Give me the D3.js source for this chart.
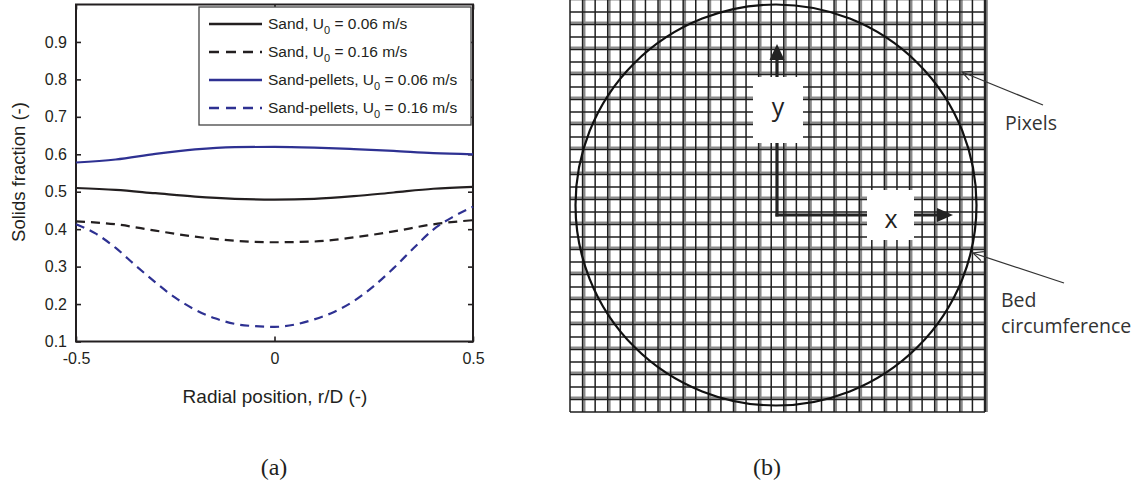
<!DOCTYPE html>
<html>
<head>
<meta charset="utf-8">
<script src="https://cdn.jsdelivr.net/npm/d3@7"></script>
<style>
  body { margin: 0; background: #fff; }
  svg { display: block; }
</style>
</head>
<body>
<svg id="fig" width="1145" height="485"></svg>
<script>
// radial positions (r/D)
const radialCoarse = [-0.5, -0.4, -0.3, -0.2, -0.1, 0, 0.1, 0.2, 0.3, 0.4, 0.5];
const radialFine = [-0.5, -0.45, -0.4, -0.35, -0.3, -0.25, -0.2, -0.15, -0.1, -0.05, 0,
  0.05, 0.1, 0.15, 0.2, 0.25, 0.3, 0.35, 0.4, 0.45, 0.5];

// solids fraction per series
const sandLow = [0.510, 0.505, 0.496, 0.487, 0.481, 0.479, 0.481, 0.488, 0.498, 0.508, 0.513];
const sandHigh = [0.421, 0.413, 0.396, 0.380, 0.369, 0.365, 0.367, 0.378, 0.394, 0.413, 0.424];
const pelletsLow = [0.578, 0.586, 0.601, 0.613, 0.619, 0.620, 0.618, 0.614, 0.609, 0.603, 0.600];
const pelletsHigh = [0.413, 0.388, 0.350, 0.303, 0.258, 0.217, 0.185, 0.162, 0.147, 0.141, 0.139,
  0.145, 0.159, 0.179, 0.208, 0.248, 0.296, 0.349, 0.399, 0.433, 0.460];

const seriesNames = ["Sand", "Sand", "Sand-pellets", "Sand-pellets"];
const seriesVelocity = ["0.06", "0.16", "0.06", "0.16"];
const yTicks = [0.1, 0.2, 0.3, 0.4, 0.5, 0.6, 0.7, 0.8, 0.9];
const xTicks = [-0.5, 0, 0.5];

const black = "#231f20";
const blue = "#2e3192";

const series = [
  { x: radialCoarse, y: sandLow, color: black, dash: null },
  { x: radialCoarse, y: sandHigh, color: black, dash: "9,6" },
  { x: radialCoarse, y: pelletsLow, color: blue, dash: null },
  { x: radialFine, y: pelletsHigh, color: blue, dash: "9,6" }
];

const svg = d3.select("#fig");
const plot = { left: 76, right: 473, top: 4.5, bottom: 341.5 };

const xScale = d3.scaleLinear().domain([-0.5, 0.5]).range([plot.left, plot.right]);
const yScale = d3.scaleLinear().domain([0.1, 1.0]).range([plot.bottom, plot.top]);

const sans = "'Liberation Sans', Arial, sans-serif";

// axes (MATLAB style: ticks pointing in, box all round)
const gLeft = svg.append("g").attr("transform", `translate(${plot.left},0)`)
  .call(d3.axisLeft(yScale).tickValues(yTicks).tickSize(-5).tickPadding(9).tickFormat(d3.format(".1f")));
const gRight = svg.append("g").attr("transform", `translate(${plot.right},0)`)
  .call(d3.axisRight(yScale).tickValues(yTicks).tickSize(-5).tickFormat(""));
const gBottom = svg.append("g").attr("transform", `translate(0,${plot.bottom})`)
  .call(d3.axisBottom(xScale).tickValues(xTicks).tickSize(-5).tickPadding(11).tickFormat(d => String(d)));
const gTop = svg.append("g").attr("transform", `translate(0,${plot.top})`)
  .call(d3.axisTop(xScale).tickValues(xTicks).tickSize(-5).tickFormat(""));

[gLeft, gRight, gBottom, gTop].forEach(g => {
  g.select(".domain").remove();
  g.selectAll(".tick line").attr("stroke", black).attr("stroke-width", 1.6);
  g.selectAll(".tick text").attr("fill", "#231f20").style("font-family", sans).style("font-size", "16px");
});

svg.append("rect")
  .attr("x", plot.left).attr("y", plot.top)
  .attr("width", plot.right - plot.left).attr("height", plot.bottom - plot.top)
  .attr("fill", "none").attr("stroke", black).attr("stroke-width", 2);

// curves
const line = d3.line().curve(d3.curveMonotoneX);
series.forEach(s => {
  const pts = s.x.map((v, i) => [xScale(v), yScale(s.y[i])]);
  svg.append("path")
    .attr("d", line(pts))
    .attr("fill", "none")
    .attr("stroke", s.color)
    .attr("stroke-width", 2.2)
    .attr("stroke-dasharray", s.dash);
});

// legend
const legend = svg.append("g");
legend.append("rect")
  .attr("x", 199).attr("y", 7).attr("width", 272).attr("height", 118)
  .attr("fill", "#fff").attr("stroke", "#444").attr("stroke-width", 1.3);
series.forEach((s, i) => {
  const ly = 24 + i * 28;
  legend.append("line")
    .attr("x1", 209).attr("x2", 262).attr("y1", ly).attr("y2", ly)
    .attr("stroke", s.color).attr("stroke-width", 2.4)
    .attr("stroke-dasharray", s.dash ? "10,7" : null);
  const t = legend.append("text")
    .attr("x", 268).attr("y", ly + 5)
    .attr("fill", "#231f20")
    .style("font-family", sans).style("font-size", "15.5px");
  t.append("tspan").text(`${seriesNames[i]}, U`);
  t.append("tspan").attr("dy", 5).style("font-size", "11px").text("0");
  t.append("tspan").attr("dy", -5).text(` = ${seriesVelocity[i]} m/s`);
});

// axis titles
svg.append("text")
  .attr("x", 275).attr("y", 403)
  .attr("text-anchor", "middle")
  .attr("fill", "#231f20")
  .style("font-family", sans).style("font-size", "19px")
  .text("Radial position, r/D (-)");

svg.append("text")
  .attr("transform", "translate(25,172) rotate(-90)")
  .attr("text-anchor", "middle")
  .attr("fill", "#231f20")
  .style("font-family", sans).style("font-size", "18.5px")
  .text("Solids fraction (-)");

// panel captions
const serif = "'Liberation Serif', 'Times New Roman', serif";
svg.append("text").attr("x", 274).attr("y", 475).attr("text-anchor", "middle")
  .style("font-family", serif).style("font-size", "24px").attr("fill", "#231f20").text("(a)");
svg.append("text").attr("x", 767).attr("y", 475).attr("text-anchor", "middle")
  .style("font-family", serif).style("font-size", "24px").attr("fill", "#231f20").text("(b)");

// ---- panel (b): pixel grid with bed circumference ----
const gridCells = 33;
const grid = { left: 570, right: 985, bottom: 412, top: -0.5 };
const gx = d3.scaleLinear().domain([0, gridCells]).range([grid.left, grid.right]);
const gy = d3.scaleLinear().domain([0, gridCells]).range([grid.bottom, grid.top]);
const gridIdx = d3.range(gridCells + 1);

const gridG = svg.append("g");
// lighter resampling bands next to some lines
gridIdx.filter(i => i % 2 === 1).forEach(i => {
  gridG.append("line").attr("x1", gx(i) + 1.8).attr("x2", gx(i) + 1.8)
    .attr("y1", grid.top).attr("y2", grid.bottom).attr("stroke", "#8a8a8a").attr("stroke-width", 2.2);
  gridG.append("line").attr("y1", gy(i) - 1.8).attr("y2", gy(i) - 1.8)
    .attr("x1", grid.left).attr("x2", grid.right).attr("stroke", "#8a8a8a").attr("stroke-width", 2.2);
});
gridIdx.forEach(i => {
  gridG.append("line").attr("x1", gx(i)).attr("x2", gx(i))
    .attr("y1", grid.top).attr("y2", grid.bottom).attr("stroke", "#1e1e1e").attr("stroke-width", 1.5);
  gridG.append("line").attr("y1", gy(i)).attr("y2", gy(i))
    .attr("x1", grid.left).attr("x2", grid.right).attr("stroke", "#1e1e1e").attr("stroke-width", 1.5);
});
gridG.append("line").attr("x1", grid.right).attr("x2", grid.right)
  .attr("y1", grid.top).attr("y2", grid.bottom).attr("stroke", "#222").attr("stroke-width", 2.4);

// bed circumference
svg.append("circle").attr("cx", 776).attr("cy", 205).attr("r", 200.5)
  .attr("fill", "none").attr("stroke", "#111").attr("stroke-width", 2.2);

// coordinate axes
const ox = 777, oy = 215;
svg.append("line").attr("x1", ox).attr("y1", oy + 1.5).attr("x2", ox).attr("y2", 58)
  .attr("stroke", "#222").attr("stroke-width", 3.2);
svg.append("path").attr("d", `M${ox - 7.5},60 L${ox},44 L${ox + 7.5},60 Z`).attr("fill", "#222");
svg.append("line").attr("x1", ox - 1.5).attr("y1", oy).attr("x2", 939).attr("y2", oy)
  .attr("stroke", "#222").attr("stroke-width", 3.2);
svg.append("path").attr("d", `M937,${oy - 7} L953,${oy} L937,${oy + 7} Z`).attr("fill", "#222");

const labelFont = "'Open Sans', Lato, sans-serif";
svg.append("rect").attr("x", 753).attr("y", 77).attr("width", 50).attr("height", 66).attr("fill", "#fff");
svg.append("text").attr("x", 778).attr("y", 116).attr("text-anchor", "middle")
  .style("font-family", labelFont).style("font-size", "25px").attr("fill", "#222").text("y");
svg.append("rect").attr("x", 867).attr("y", 190).attr("width", 47).attr("height", 50).attr("fill", "#fff");
svg.append("text").attr("x", 891).attr("y", 228).attr("text-anchor", "middle")
  .style("font-family", labelFont).style("font-size", "25px").attr("fill", "#222").text("x");

// callouts
function callout(x1, y1, x2, y2) {
  svg.append("line").attr("x1", x1).attr("y1", y1).attr("x2", x2).attr("y2", y2)
    .attr("stroke", "#333").attr("stroke-width", 1.2);
  const a = Math.atan2(y1 - y2, x1 - x2);
  const len = 11, spread = 0.45;
  const p1 = [x2 + len * Math.cos(a + spread), y2 + len * Math.sin(a + spread)];
  const p2 = [x2 + len * Math.cos(a - spread), y2 + len * Math.sin(a - spread)];
  svg.append("path").attr("d", `M${p1[0]},${p1[1]} L${x2},${y2} L${p2[0]},${p2[1]}`)
    .attr("fill", "none").attr("stroke", "#333").attr("stroke-width", 1.2);
}
callout(1043, 105, 962, 72);
callout(1064, 283, 973, 253);

const noteStyle = t => t.style("font-family", labelFont).style("font-size", "19.5px").attr("fill", "#333");
noteStyle(svg.append("text").attr("x", 1005).attr("y", 130).text("Pixels"));
noteStyle(svg.append("text").attr("x", 1001).attr("y", 307).text("Bed"));
noteStyle(svg.append("text").attr("x", 1001).attr("y", 333).text("circumference"));
</script>
</body>
</html>
